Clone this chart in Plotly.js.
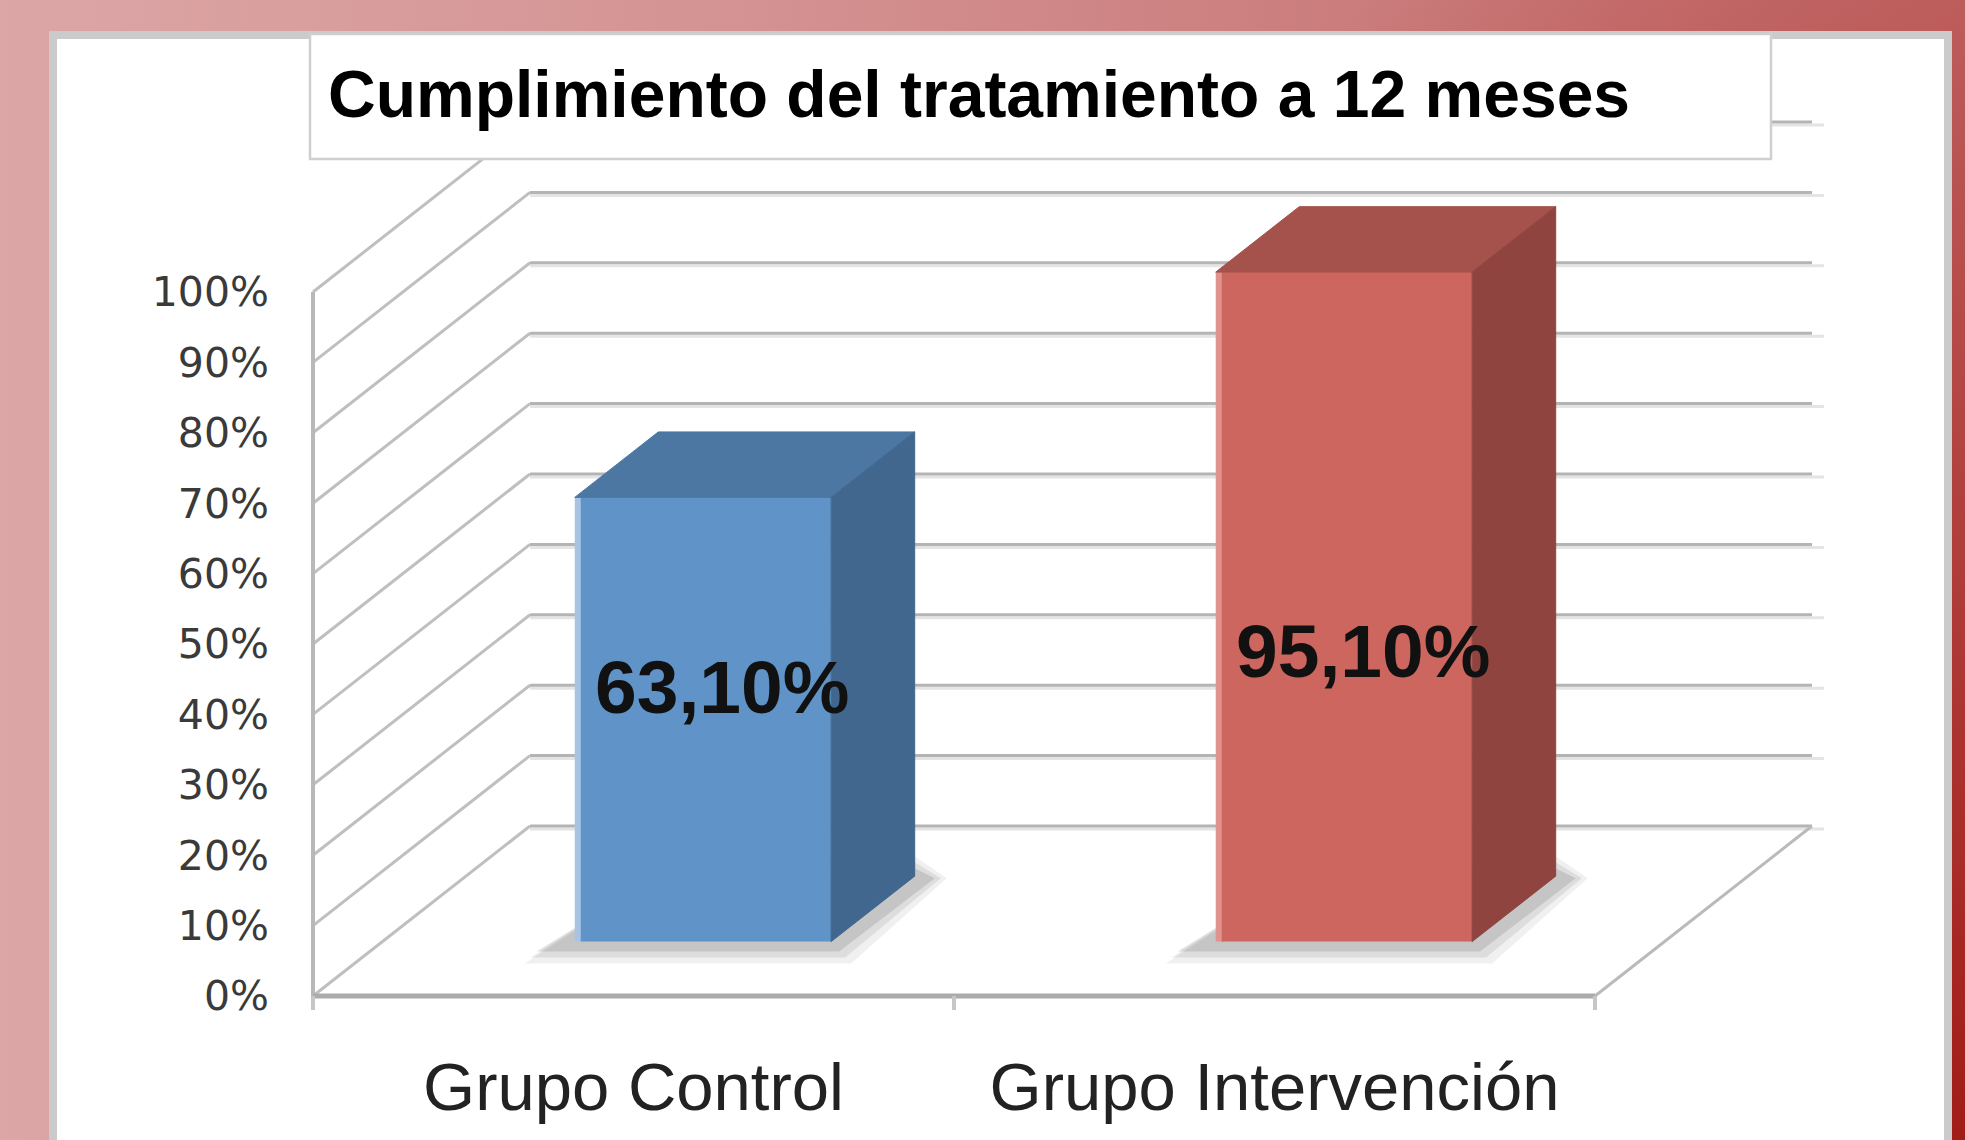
<!DOCTYPE html>
<html>
<head>
<meta charset="utf-8">
<script src="https://cdn.plot.ly/plotly-3.0.1.min.js"></script>
<style>
html, body { margin:0; padding:0; width:1965px; height:1140px; overflow:hidden; }
body {
  background:
    radial-gradient(ellipse 55% 120% at 100% 100%, rgba(160,24,18,0.95) 0%, rgba(160,24,18,0) 100%),
    linear-gradient(to right, #dca6a6 0%, #d59494 35%, #cc7f7f 65%, #c26a6a 100%);
}
#chart { width:1965px; height:1140px; }
</style>
</head>
<body>
<div id="chart"></div>
<script>
// ---- data ----
const categories = ['Grupo Control', 'Grupo Intervención'];
const values = [63.1, 95.1];
const valueLabels = ['63,10%', '95,10%'];
const yTickValues = [0, 10, 20, 30, 40, 50, 60, 70, 80, 90, 100];
const yTickLabels = ['0%', '10%', '20%', '30%', '40%', '50%', '60%', '70%', '80%', '90%', '100%'];
const frontColors = ['#6094c8', '#cd665e'];
const edgeColors = ['#a9c4e2', '#e0928c'];
const topColors = ['#4b77a2', '#a5524c'];
const sideColors = ['#41678f', '#8f4440'];
const chartTitle = 'Cumplimiento del tratamiento a 12 meses';

// ---- geometry (pseudo-3D projection) ----
const W = 1965, H = 1140;
const X0 = 313, PXC = 641;      // px of category 0, px per category unit
const Y0 = 996, PXV = 7.04;     // px of 0 %, px per percent
const DX = 217 / PXC, DY = 170 / PXV; // full depth offset in axis units
const ZF = 0.32, ZB = 0.705, HALF = 0.2;
const px = p => p / PXC, pv = p => p / PXV;
const nCat = categories.length;
const vMax = yTickValues[yTickValues.length - 1];
const centers = categories.map((_, i) => i + 0.5);

const shapes = [];
// white panel
shapes.push({type:'rect', xref:'paper', yref:'paper', x0:53/W, x1:1948/W, y0:-0.05, y1:1-35/H,
  fillcolor:'#ffffff', line:{color:'#cbcbcb', width:8}, layer:'below'});

// walls: grid lines
yTickValues.forEach(v => {
  shapes.push({type:'line', xref:'x', yref:'y', x0:0, y0:v, x1:DX, y1:v+DY,
    line:{color:'#bfbfbf', width:3}, layer:'below'});
  shapes.push({type:'line', xref:'x', yref:'y', x0:DX, y0:v+DY-pv(3), x1:nCat+DX+px(12), y1:v+DY-pv(3),
    line:{color:'#e4e4e4', width:3}, layer:'below'});
  shapes.push({type:'line', xref:'x', yref:'y', x0:DX, y0:v+DY, x1:nCat+DX, y1:v+DY,
    line:{color:'#b4b4b4', width:3}, layer:'below'});
});
// floor right edge
shapes.push({type:'line', xref:'x', yref:'y', x0:nCat, y0:0, x1:nCat+DX, y1:DY,
  line:{color:'#bababa', width:3}, layer:'below'});
// axis lines
shapes.push({type:'line', xref:'x', yref:'y', x0:0, y0:0, x1:0, y1:vMax,
  line:{color:'#b8b8b8', width:4}, layer:'below'});
shapes.push({type:'line', xref:'x', yref:'y', x0:0, y0:0, x1:nCat, y1:0,
  line:{color:'#ababab', width:5}, layer:'below'});
for (let c = 0; c <= nCat; c++) {
  shapes.push({type:'line', xref:'x', yref:'y', x0:c, y0:0, x1:c, y1:-pv(14),
    line:{color:'#c6c6c6', width:4}, layer:'below'});
}
// soft shadows under bars
centers.forEach((c, i) => {
  const c0 = c - HALF, c1 = c + HALF;
  [[0.09, 16], [0.12, 10], [0.18, 4]].forEach(([op, g]) => {
    const pts = [
      [c0 + ZF*DX - px(34 + g), ZF*DY - pv(6 + g)],
      [c1 + ZF*DX + px(4 + g), ZF*DY - pv(6 + g)],
      [c1 + ZB*DX + px(16 + g), ZB*DY - pv(2)],
      [c1 + ZB*DX, ZB*DY + pv(4 + g)],
      [c0 + ZB*DX, ZB*DY]
    ];
    const path = 'M ' + pts.map(p => p[0] + ',' + p[1]).join(' L ') + ' Z';
    shapes.push({type:'path', xref:'x', yref:'y', path:path, fillcolor:'rgba(90,90,90,' + op + ')',
      line:{width:0}, layer:'below'});
  });
});
// title box
shapes.push({type:'rect', xref:'paper', yref:'paper', x0:310/W, x1:1771/W, y0:1-159/H, y1:1-34/H,
  fillcolor:'#ffffff', line:{color:'#cfcfcf', width:2.5}, layer:'above'});

// ---- traces ----
const traces = [];
// light left edge of the front faces
traces.push({
  type:'bar', x: centers.map(c => c + ZF*DX - HALF + px(4)), y: values, base: ZF*DY, width: px(8),
  marker:{color: edgeColors, line:{width:0}}, hoverinfo:'skip', showlegend:false
});
traces.push({
  type:'bar', x: centers.map(c => c + ZF*DX + px(3)), y: values, base: ZF*DY, width: 2*HALF - px(6),
  marker:{color: frontColors, line:{width:0}}, hoverinfo:'skip', showlegend:false
});
centers.forEach((c, i) => {
  const v = values[i], c0 = c - HALF, c1 = c + HALF;
  traces.push({type:'scatter', mode:'lines', fill:'toself', fillcolor: topColors[i],
    line:{color: topColors[i], width:1}, hoverinfo:'skip', showlegend:false,
    x:[c0+ZF*DX, c1+ZF*DX, c1+ZB*DX, c0+ZB*DX, c0+ZF*DX],
    y:[v+ZF*DY, v+ZF*DY, v+ZB*DY, v+ZB*DY, v+ZF*DY]});
  traces.push({type:'scatter', mode:'lines', fill:'toself', fillcolor: sideColors[i],
    line:{color: sideColors[i], width:1}, hoverinfo:'skip', showlegend:false,
    x:[c1+ZF*DX, c1+ZB*DX, c1+ZB*DX, c1+ZF*DX, c1+ZF*DX],
    y:[v+ZF*DY, v+ZB*DY, ZB*DY, ZF*DY, v+ZF*DY]});
});

const annotations = centers.map((c, i) => ({
  xref:'x', yref:'y', x: c + ZF*DX + 0.03, y: ZF*DY + 26 + 0.16*values[i],
  text: valueLabels[i], showarrow:false, xanchor:'center', yanchor:'middle',
  font:{family:'Liberation Sans, Arial, sans-serif', size:75, color:'#111111', weight:'bold'}
}));

const layout = {
  width: W, height: H,
  margin:{l:0, r:0, t:0, b:0},
  paper_bgcolor:'rgba(0,0,0,0)', plot_bgcolor:'rgba(0,0,0,0)',
  showlegend:false, hovermode:false, barmode:'overlay',
  title:{text: chartTitle, xref:'paper', yref:'paper', x:328/W, xanchor:'left', y:1-94/H, yanchor:'middle',
    font:{family:'Liberation Sans, Arial, sans-serif', size:66, color:'#000000', weight:'bold'}},
  xaxis:{range:[-X0/PXC, (W-X0)/PXC], domain:[0,1], anchor:'free', position:(H-Y0)/H,
    tickmode:'array', tickvals: centers, ticktext: categories, ticks:'', ticklabelstandoff:46,
    tickfont:{family:'Liberation Sans, Arial, sans-serif', size:67, color:'#222222'},
    showgrid:false, zeroline:false, showline:false, fixedrange:true, automargin:false},
  yaxis:{range:[(Y0-H)/PXV, Y0/PXV], domain:[0,1], anchor:'free', position:X0/W, side:'left',
    tickmode:'array', tickvals: yTickValues, ticktext: yTickLabels, ticks:'', ticklabelstandoff:44,
    tickfont:{family:'DejaVu Sans, Verdana, sans-serif', size:41, color:'#3a3a3a'},
    showgrid:false, zeroline:false, showline:false, fixedrange:true, automargin:false},
  shapes: shapes,
  annotations: annotations
};

Plotly.newPlot('chart', traces, layout, {staticPlot:true, displayModeBar:false});
</script>
</body>
</html>
